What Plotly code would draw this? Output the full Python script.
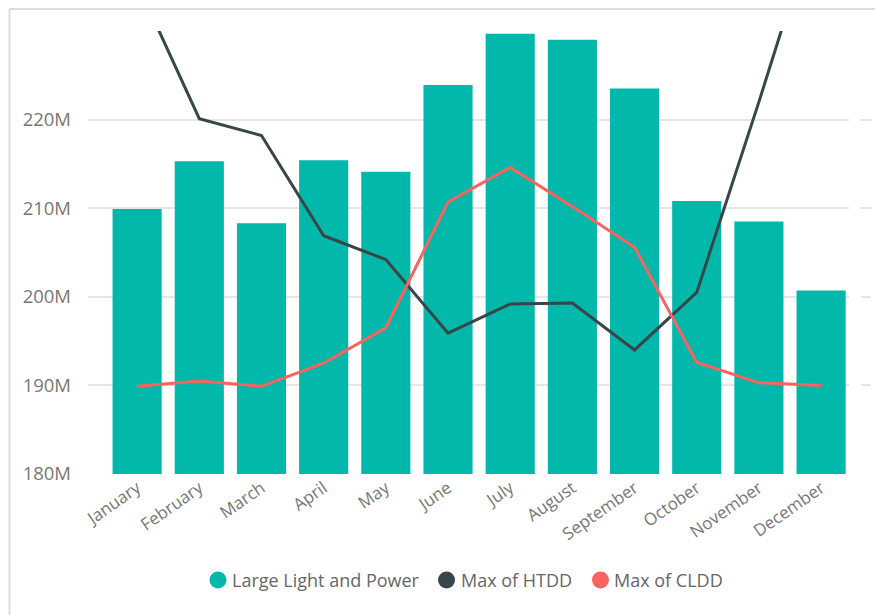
import plotly.graph_objects as go

MONTHS = ["January", "February", "March", "April", "May", "June", "July",
          "August", "September", "October", "November", "December"]
# Large Light and Power, millions
LLP = [209.9, 215.3, 208.3, 215.4, 214.1, 223.9, 229.7, 229.0, 223.5, 210.8, 208.5, 200.7]
# lines read against the same (hidden) secondary scale
HTDD = [235.4, 220.1, 218.2, 206.9, 204.2, 195.9, 199.2, 199.3, 194.0, 200.5, 222.0, 244.3]
CLDD = [189.9, 190.5, 189.9, 192.5, 196.5, 210.7, 214.6, 210.2, 205.6, 192.6, 190.3, 190.0]
Y_TICKS = [180, 190, 200, 210, 220]
Y_TEXT = ["180M", "190M", "200M", "210M", "220M"]
LEGEND = ["Large Light and Power", "Max of HTDD", "Max of CLDD"]

TEAL, DARK, RED = "#01B8AA", "#374649", "#FD625E"
FONT = "Open Sans, Segoe UI, sans-serif"
GREY = "#777777"

fig = go.Figure()
fig.add_trace(go.Bar(x=MONTHS, y=LLP, marker=dict(color=TEAL, line=dict(width=0)),
                     name=LEGEND[0]))
fig.add_trace(go.Scatter(x=MONTHS, y=HTDD, mode="lines", yaxis="y2",
                         line=dict(color=DARK, width=3), name=LEGEND[1]))
fig.add_trace(go.Scatter(x=MONTHS, y=CLDD, mode="lines", yaxis="y2",
                         line=dict(color=RED, width=3), name=LEGEND[2]))

# visual frame: only top and left edges are inside the window
PW, PH = 783, 443  # paper size in px
frame = dict(color="#dddddd", width=2)
shapes = [
    dict(type="line", xref="paper", yref="paper", x0=-0.1003, x1=1.02,
         y0=1.0497, y1=1.0497, line=frame, layer="below"),
    dict(type="line", xref="paper", yref="paper", x0=-0.1003, x1=-0.1003,
         y0=-0.35, y1=1.0497, line=frame, layer="below"),
]
# legend drawn by hand: dot right next to text, like the Power BI visual
annotations = []
ly = -0.2393
for nm, col, cx, tx in zip(LEGEND, [TEAL, DARK, RED],
                           [0.1660, 0.4579, 0.6545], [0.1814, 0.4738, 0.6692]):
    shapes.append(dict(type="circle", xref="paper", yref="paper",
                       x0=cx - 8.5 / PW, x1=cx + 8.5 / PW,
                       y0=ly - 8.5 / PH, y1=ly + 8.5 / PH,
                       fillcolor=col, line=dict(width=0)))
    annotations.append(dict(text=nm, xref="paper", yref="paper", x=tx, y=ly,
                            xanchor="left", yanchor="middle", showarrow=False,
                            font=dict(size=18, color="#666666", family=FONT)))

fig.update_layout(
    width=875, height=615,
    margin=dict(l=88, r=4, t=31, b=141),
    plot_bgcolor="white", paper_bgcolor="white",
    bargap=0.21, showlegend=False,
    font=dict(family=FONT, color=GREY),
    xaxis=dict(domain=[0, 0.972], range=[-0.79, 11.45], tickangle=-35,
               tickfont=dict(size=17, color=GREY), showgrid=False, zeroline=False,
               showline=False, ticks=""),
    yaxis=dict(range=[180, 230], tickvals=Y_TICKS, ticktext=Y_TEXT,
               tickfont=dict(size=18.5, color=GREY), ticklabelstandoff=16,
               showgrid=True, gridcolor="#e6e6e6", gridwidth=1.5, zeroline=False,
               showline=False),
    yaxis2=dict(range=[180, 230], overlaying="y", side="right", anchor="free", position=1,
                tickvals=[180, 190, 200, 210, 220, 230], showticklabels=False,
                ticks="inside", ticklen=10, tickwidth=1.5, tickcolor="#e6e6e6",
                showgrid=False, zeroline=False, showline=False),
    shapes=shapes,
    annotations=annotations,
)

# drop the default body margin so the 875x615 figure fills the window exactly
fig.write_html("out.html", config={"displayModeBar": False}, post_script=(
    "document.body.style.margin='0';"
    "document.documentElement.style.overflow='hidden';"))
